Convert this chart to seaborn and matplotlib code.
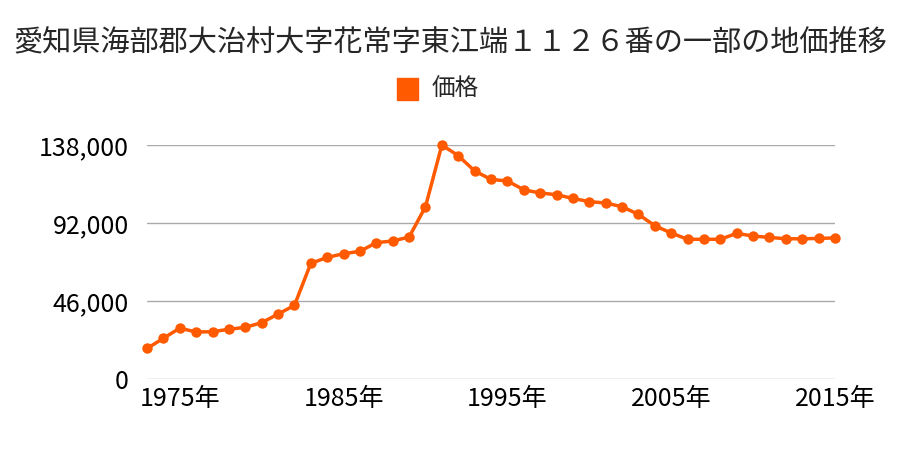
import matplotlib
matplotlib.use("Agg")
import matplotlib.pyplot as plt
import matplotlib.ticker as mticker
import seaborn as sns
import pandas as pd

title = "愛知県海部郡大治村大字花常字東江端１１２６番の一部の地価推移"
series_name = "価格"
years = list(range(1973, 2016))
prices = [18000, 24000, 30000, 27700, 27900, 29300, 30500, 33200, 38300, 43400,
          68200, 71700, 73900, 75300, 80400, 81400, 83700, 101600, 138000, 131700,
          122700, 117700, 116800, 111600, 109700, 108700, 106500, 104600, 103800, 101600,
          97100, 90400, 86100, 82400, 82400, 82400, 85900, 84300, 83500, 82700,
          82700, 82900, 83200]
y_ticks = [0, 46000, 92000, 138000]
x_ticks = [1975, 1985, 1995, 2005, 2015]

df = pd.DataFrame({"year": years, "price": prices, "series": series_name})

sns.set_theme(style="white")
plt.rcParams["font.family"] = ["Noto Sans CJK JP", "DejaVu Sans"]

color = "#ff5a00"
fig = plt.figure(figsize=(9, 4.5), dpi=100)
ax = fig.add_axes([147/900, 1-379/450, (835-147)/900, (379-145)/450])

sns.lineplot(data=df, x="year", y="price", ax=ax, color=color, linewidth=2.5,
             marker="o", markersize=7.5, markeredgewidth=0, legend=False, clip_on=False)

ax.set_xlim(1973, 2015)
ax.set_ylim(0, 138000)
ax.set_yticks(y_ticks)
ax.yaxis.set_major_formatter(mticker.FuncFormatter(lambda v, p: f"{int(v):,}"))
ax.set_xticks(x_ticks)
ax.set_xticklabels([f"{x}年" for x in x_ticks])
ax.grid(axis="y", color="#aaaaaa", linewidth=1)
ax.set_axisbelow(True)
for s in ax.spines.values():
    s.set_visible(False)
ax.tick_params(axis="both", length=0, labelsize=18, colors="#000000")
ax.tick_params(axis="y", pad=13)
ax.tick_params(axis="x", pad=5)
ax.set_xlabel("")
ax.set_ylabel("")

fig.text(0.5, 1-43/450, title, ha="center", va="center", fontsize=21)
fig.patches.append(plt.Rectangle((397/900, 1-100/450), 21/900, 22/450,
                                 transform=fig.transFigure, color=color))
fig.text(432/900, 1-89/450, series_name, ha="left", va="center", fontsize=17)

fig.savefig("out.png", dpi=100, facecolor="white")
